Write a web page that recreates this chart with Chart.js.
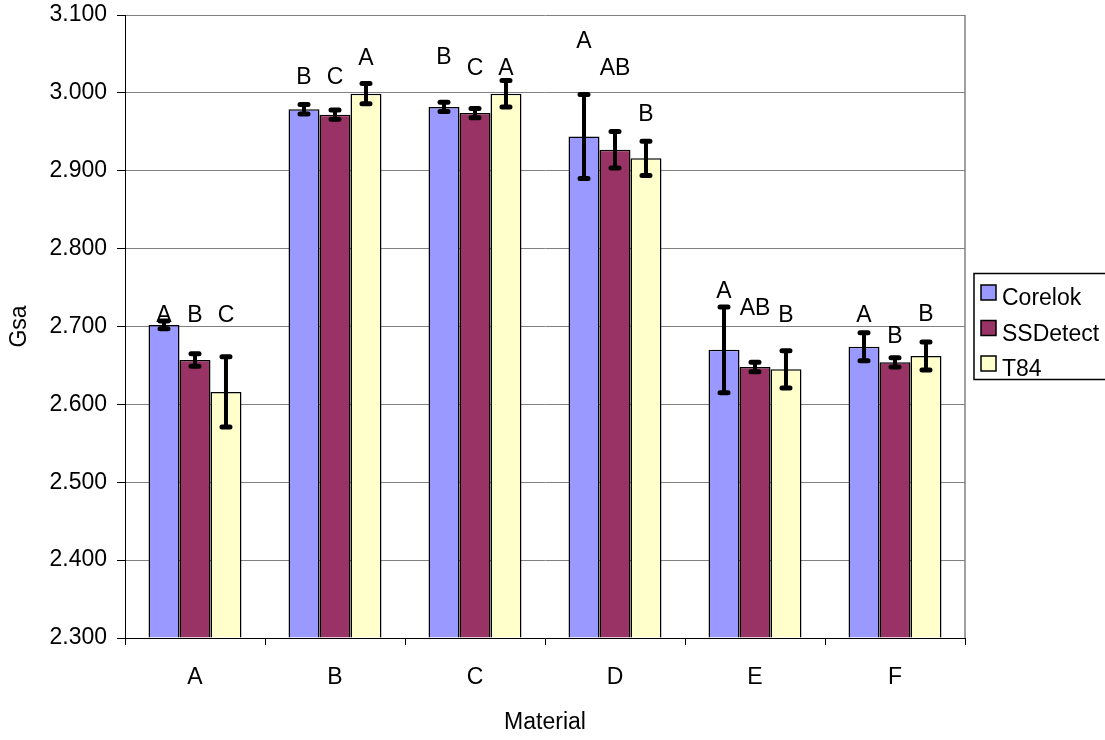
<!DOCTYPE html>
<html>
<head>
<meta charset="utf-8">
<title>Gsa by Material</title>
<script src="https://cdn.jsdelivr.net/npm/chart.js"></script>
<style>
  html, body { margin: 0; padding: 0; background: #fff; }
  #wrap { width: 1105px; height: 740px; }
</style>
</head>
<body>
<div id="wrap"><canvas id="gsaChart" width="1105" height="740"></canvas></div>
<script>
// Materiales y Gsa medio por método
const materials = ['A', 'B', 'C', 'D', 'E', 'F'];
const corelok = [2.702, 2.979, 2.982, 2.944, 2.670, 2.674];
const ssdetect = [2.657, 2.972, 2.974, 2.927, 2.648, 2.654];
const t84 = [2.616, 2.999, 2.999, 2.916, 2.645, 2.662];

// mitad de la barra de error
const corelokErr = [0.005, 0.006, 0.006, 0.054, 0.055, 0.018];
const ssdetectErr = [0.008, 0.006, 0.006, 0.0235, 0.006, 0.006];
const t84Err = [0.045, 0.013, 0.017, 0.022, 0.024, 0.018];

// letras de significancia y el nivel de Gsa donde van
const corelokGroups = ['A', 'B', 'B', 'A', 'A', 'A'];
const ssdetectGroups = ['B', 'C', 'C', 'AB', 'AB', 'B'];
const t84Groups = ['C', 'A', 'A', 'B', 'B', 'B'];
const corelokLetterAt = [2.716, 3.022, 3.047, 3.068, 2.747, 2.716];
const ssdetectLetterAt = [2.716, 3.022, 3.033, 3.033, 2.725, 2.689];
const t84LetterAt = [2.716, 3.046, 3.033, 2.974, 2.716, 2.717];

const yTicks = [2.3, 2.4, 2.5, 2.6, 2.7, 2.8, 2.9, 3.0, 3.1];

const FONT = "'Liberation Sans', Arial, sans-serif";
Chart.defaults.font.family = FONT;
Chart.defaults.font.size = 23;
Chart.defaults.color = '#000';

// Borde derecho del área del gráfico
const plotBorder = {
    id: 'plotBorder',
    beforeDatasetsDraw(chart) {
        const { ctx, chartArea } = chart;
        ctx.save();
        ctx.strokeStyle = '#808080';
        ctx.lineWidth = 1.5;
        ctx.beginPath();
        ctx.moveTo(chartArea.right, chartArea.top);
        ctx.lineTo(chartArea.right, chartArea.bottom);
        ctx.stroke();
        ctx.restore();
    }
};

// Barras de error y letras encima de cada barra
const errorBars = {
    id: 'errorBars',
    afterDatasetsDraw(chart) {
        const ctx = chart.ctx;
        const y = chart.scales.y;
        chart.data.datasets.forEach((ds, i) => {
            const meta = chart.getDatasetMeta(i);
            meta.data.forEach((bar, j) => {
                const v = ds.data[j];
                const e = ds.err[j];
                const top = y.getPixelForValue(v + e);
                const bot = y.getPixelForValue(v - e);
                ctx.save();
                ctx.strokeStyle = '#000';
                ctx.lineCap = 'round';
                ctx.lineWidth = 4;
                ctx.beginPath();
                ctx.moveTo(bar.x, top);
                ctx.lineTo(bar.x, bot);
                ctx.stroke();
                ctx.lineWidth = 5;
                ctx.beginPath();
                ctx.moveTo(bar.x - 4, top);
                ctx.lineTo(bar.x + 4, top);
                ctx.moveTo(bar.x - 4, bot);
                ctx.lineTo(bar.x + 4, bot);
                ctx.stroke();

                ctx.fillStyle = '#000';
                ctx.font = '23px ' + FONT;
                ctx.textAlign = 'center';
                ctx.textBaseline = 'alphabetic';
                ctx.fillText(ds.groups[j], bar.x, y.getPixelForValue(ds.letterAt[j]) + 8);
                ctx.restore();
            });
        });
    }
};

// Leyenda con recuadro a la derecha
const boxLegend = {
    id: 'boxLegend',
    afterDraw(chart) {
        const { ctx, chartArea } = chart;
        const sets = chart.data.datasets;
        const rowH = 35.5;
        const boxH = 106;
        const left = chartArea.right + 9;
        const topY = (chartArea.top + chartArea.bottom) / 2 - boxH / 2;
        ctx.save();
        ctx.strokeStyle = '#000';
        ctx.lineWidth = 1.5;
        ctx.strokeRect(left, topY, 200, boxH);
        ctx.font = '23px ' + FONT;
        ctx.textAlign = 'left';
        ctx.textBaseline = 'alphabetic';
        sets.forEach((ds, k) => {
            const rowY = topY + 23.5 + k * rowH;
            ctx.fillStyle = ds.backgroundColor;
            ctx.fillRect(left + 7, rowY - 12, 15, 15);
            ctx.lineWidth = 1.5;
            ctx.strokeRect(left + 7, rowY - 12, 15, 15);
            ctx.fillStyle = '#000';
            ctx.fillText(ds.label, left + 28, rowY + 8);
        });
        ctx.restore();
    }
};

function makeSet(label, data, color, err, groups, letterAt) {
    return {
        label: label,
        data: data,
        backgroundColor: color,
        borderColor: '#000',
        borderWidth: 1.5,
        base: 2.3,
        categoryPercentage: 0.664,
        barPercentage: 1,
        err: err,
        groups: groups,
        letterAt: letterAt
    };
}

new Chart(document.getElementById('gsaChart'), {
    type: 'bar',
    data: {
        labels: materials,
        datasets: [
            makeSet('Corelok', corelok, '#9999FF', corelokErr, corelokGroups, corelokLetterAt),
            makeSet('SSDetect', ssdetect, '#993366', ssdetectErr, ssdetectGroups, ssdetectLetterAt),
            makeSet('T84', t84, '#FFFFCC', t84Err, t84Groups, t84LetterAt)
        ]
    },
    options: {
        responsive: false,
        animation: false,
        layout: { padding: { top: 15, right: 140, bottom: 0, left: 0 } },
        plugins: {
            legend: { display: false },
            tooltip: { enabled: false }
        },
        scales: {
            x: {
                grid: {
                    drawOnChartArea: false,
                    drawTicks: true,
                    tickLength: 7,
                    tickColor: '#000',
                    offset: true
                },
                border: { color: '#000', width: 1 },
                ticks: { padding: 19 },
                title: { display: true, text: 'Material', padding: { top: 0, bottom: 4 } },
                afterFit(scale) { scale.height = 102; }
            },
            y: {
                min: 2.3,
                max: 3.1,
                afterBuildTicks(scale) {
                    scale.ticks = yTicks.map(v => ({ value: v }));
                },
                ticks: {
                    padding: 10,
                    callback: v => Number(v).toFixed(3)
                },
                grid: { color: '#808080', tickColor: '#000', tickLength: 8 },
                border: { color: '#000', width: 1 },
                title: { display: true, text: 'Gsa', padding: { top: 6, bottom: 0 } },
                afterFit(scale) {
                    scale.width = 125;
                    scale.paddingTop = 0;
                    scale.paddingBottom = 0;
                }
            }
        }
    },
    plugins: [plotBorder, errorBars, boxLegend]
});
</script>
</body>
</html>
